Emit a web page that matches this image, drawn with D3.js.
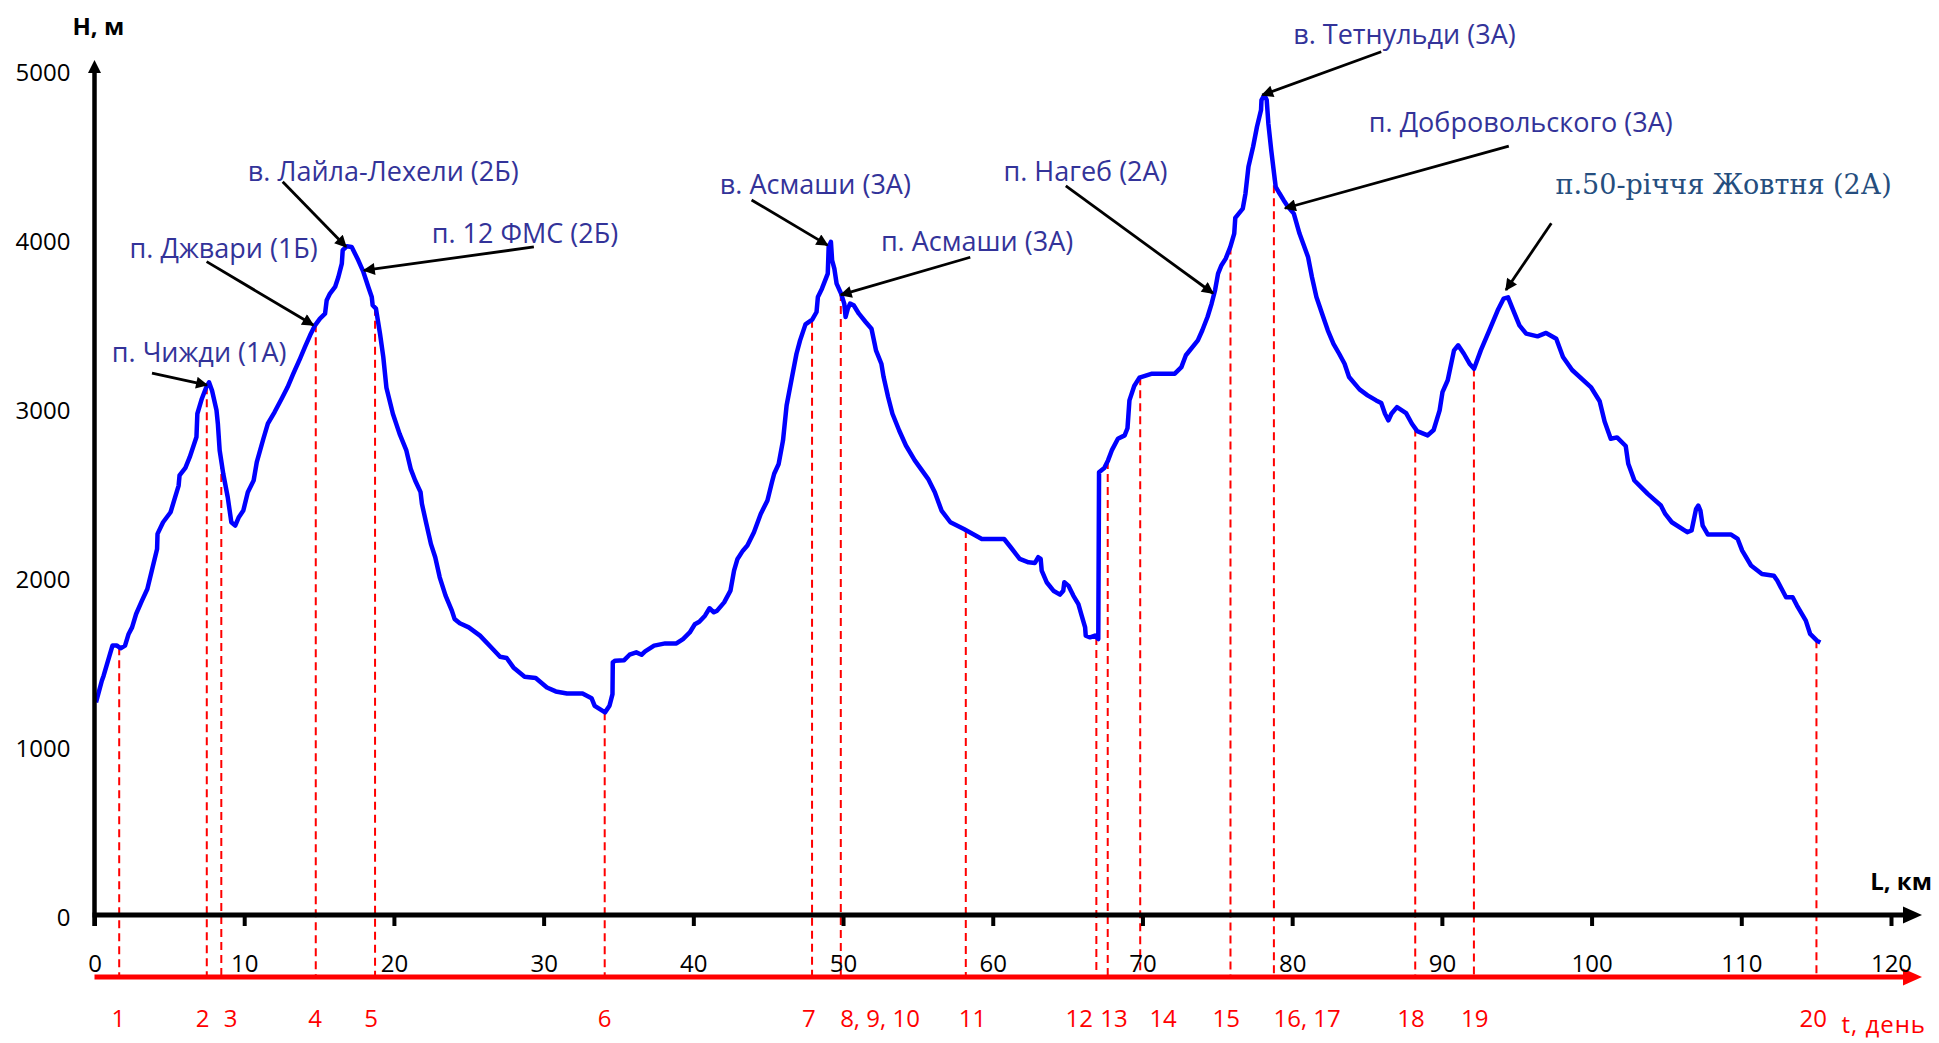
<!DOCTYPE html>
<html lang="uk">
<head>
    <meta charset="UTF-8">
    <title>Профіль маршруту</title>
    <style>
        body {
            margin: 0;
            background: #ffffff;
        }

        svg {
            display: block;
        }

        .tick text {
            font-family: 'Open Sans', sans-serif;
            font-size: 24px;
            fill: #000;
        }

        .note {
            font-family: 'Open Sans', sans-serif;
            font-size: 27px;
            fill: #333399;
        }

        .note.serif {
            font-family: 'DejaVu Serif', serif;
            font-size: 27px;
            fill: #254e7e;
        }

        .day {
            font-family: 'Open Sans', sans-serif;
            font-size: 24px;
            fill: #ff0000;
        }

        .axis-title {
            font-family: 'Open Sans', sans-serif;
            font-size: 24px;
            font-weight: bold;
            fill: #000;
        }
    </style>
</head>
<body>
    <svg id="chart" width="1939" height="1043"></svg>

    <script src="https://d3js.org/d3.v7.min.js"></script>
    <script>
        // elevation profile, [distance km, height m]
        const profile = [
            [0.1,1258],[0.49,1386],[0.61,1416],[1.2,1594],[1.5,1594],[1.74,1578],[2.04,1594],[2.28,1663],[2.51,1702],[2.78,1781],
            [3.17,1860],[3.53,1929],[3.83,2038],[4.18,2166],[4.21,2255],[4.58,2324],[5.08,2383],[5.32,2453],[5.62,2541],[5.68,2601],
            [6.07,2646],[6.36,2709],[6.66,2788],[6.81,2828],[6.87,2966],[7.17,3055],[7.47,3124],[7.65,3152],[7.85,3104],[8.15,2986],
            [8.24,2907],[8.36,2749],[8.6,2611],[8.9,2472],[9.14,2324],[9.4,2304],[9.64,2354],[9.94,2393],[10.24,2502],[10.63,2571],
            [10.84,2680],[11.28,2818],[11.58,2907],[12.03,2976],[12.5,3055],[12.9,3124],[13.28,3203],[13.73,3292],[14.06,3361],[14.4,3430],
            [14.73,3489],[15.06,3529],[15.4,3558],[15.51,3637],[15.73,3677],[16.07,3716],[16.29,3775],[16.52,3854],[16.58,3934],[16.85,3957],
            [17.18,3953],[17.62,3874],[17.96,3805],[18.29,3716],[18.52,3657],[18.58,3608],[18.8,3588],[19.07,3440],[19.29,3302],[19.5,3120],
            [19.93,2966],[20.38,2847],[20.83,2749],[21.12,2640],[21.42,2571],[21.78,2502],[21.87,2433],[22.17,2314],[22.47,2196],[22.76,2117],
            [23.06,1998],[23.45,1890],[23.87,1801],[24.05,1752],[24.4,1726],[25,1702],[25.75,1653],[26.49,1584],[27.09,1528],[27.53,1521],
            [27.98,1465],[28.73,1410],[29.47,1402],[30.22,1346],[30.81,1323],[31.56,1311],[32.6,1311],[33.2,1283],[33.41,1238],[34.1,1199],
            [34.4,1238],[34.6,1307],[34.62,1495],[34.78,1505],[35.38,1508],[35.74,1540],[36.19,1554],[36.54,1540],[36.78,1560],[37.38,1594],
            [38.12,1607],[38.87,1607],[39.31,1633],[39.76,1672],[40.1,1720],[40.4,1735],[40.78,1771],[41.08,1815],[41.37,1791],[41.59,1801],
            [42.06,1850],[42.48,1919],[42.72,2038],[42.95,2107],[43.31,2156],[43.61,2186],[44.05,2265],[44.5,2373],[44.95,2453],[45.25,2561],
            [45.4,2611],[45.7,2669],[45.99,2808],[46.23,3015],[46.59,3183],[46.89,3321],[47.13,3400],[47.49,3495],[47.94,3523],[48.23,3568],
            [48.32,3657],[48.59,3706],[48.98,3795],[49.04,3953],[49.19,3983],[49.27,3874],[49.42,3825],[49.57,3736],[49.87,3677],[50.08,3618],
            [50.17,3539],[50.32,3588],[50.47,3618],[50.71,3608],[51.06,3558],[51.51,3509],[51.9,3469],[52.11,3380],[52.2,3341],[52.56,3262],
            [52.71,3183],[53.01,3065],[53.3,2966],[53.75,2867],[54.2,2778],[54.79,2690],[55.68,2581],[56.13,2502],[56.58,2393],[57.17,2324],
            [58.07,2284],[58.67,2255],[59.27,2225],[60.76,2225],[61.2,2176],[61.8,2107],[62.39,2087],[62.82,2083],[63.04,2117],[63.2,2107],
            [63.27,2038],[63.6,1969],[64.05,1919],[64.49,1896],[64.71,1919],[64.78,1969],[65.05,1949],[65.38,1890],[65.72,1840],[65.94,1771],
            [66.17,1702],[66.21,1653],[66.5,1643],[66.83,1653],[67.05,1633],[67.1,2620],[67.45,2645],[67.7,2690],[67.95,2749],[68.36,2818],
            [68.81,2838],[69.0,2880],[69.13,3045],[69.45,3130],[69.8,3180],[70.64,3203],[72.16,3203],[72.6,3242],[72.9,3312],[73.7,3400],
            [74.0,3460],[74.35,3540],[74.62,3618],[74.85,3697],[75.05,3795],[75.28,3845],[75.56,3884],[75.87,3953],[76.13,4032],[76.2,4125],
            [76.7,4180],[76.88,4269],[77.08,4427],[77.39,4546],[77.65,4664],[77.92,4763],[77.95,4822],[78.14,4852],[78.3,4822],[78.41,4684],
            [78.6,4526],[78.79,4388],[78.9,4309],[79.16,4269],[79.43,4230],[79.73,4190],[80.11,4150],[80.49,4032],[81.06,3894],[81.32,3775],
            [81.62,3657],[82.0,3558],[82.38,3460],[82.76,3380],[83.14,3321],[83.5,3262],[83.8,3183],[84.5,3110],[85.04,3075],[85.61,3045],
            [85.95,3030],[86.2,2966],[86.43,2927],[86.63,2966],[87.0,3005],[87.61,2970],[88.0,2907],[88.35,2863],[89.05,2838],[89.45,2870],
            [89.85,2986],[90.04,3094],[90.39,3164],[90.81,3341],[91.09,3371],[91.47,3321],[91.85,3262],[92.15,3232],[92.6,3341],[93.17,3460],
            [93.73,3578],[94.12,3647],[94.42,3655],[94.68,3597],[95.18,3489],[95.63,3440],[96.39,3424],[96.96,3444],[97.64,3410],[98.09,3302],
            [98.7,3225],[99.95,3124],[100.54,3040],[100.87,2920],[101.28,2818],[101.7,2826],[102.28,2775],[102.45,2670],[102.86,2571],[103.75,2492],
            [104.63,2423],[104.92,2373],[105.36,2324],[106.39,2265],[106.68,2275],[106.98,2403],[107.13,2423],[107.27,2393],[107.42,2304],[107.77,2251],
            [109.32,2251],[109.76,2225],[110.06,2156],[110.65,2068],[111.38,2018],[112.17,2008],[112.4,1979],[112.99,1880],[113.43,1880],[113.72,1831],
            [114.31,1742],[114.6,1663],[115.05,1623],[115.28,1613]
        ];

        const kmTicks = [0, 10, 20, 30, 40, 50, 60, 70, 80, 90, 100, 110, 120];
        const heightTicks = [0, 1000, 2000, 3000, 4000, 5000];

        // end of each day on the route
        const dayLabels = ['1', '2', '3', '4', '5', '6', '7', '8, 9, 10', '11', '12', '13', '14', '15', '16, 17', '18', '19', '20'];
        const dayKm = [1.65, 7.5, 8.47, 14.78, 18.74, 34.08, 47.93, 49.85, 58.2, 66.92, 67.68, 69.85, 75.88, 78.78, 88.22, 92.14, 115.02];
        const dayLabelKm = [1.6, 7.23, 9.1, 14.74, 18.48, 34.07, 47.72, 52.47, 58.65, 65.78, 68.1, 71.38, 75.6, 81.0, 87.93, 92.2, 114.8];

        // passes and summits: label centre, arrow start, arrow tip (km, m)
        const noteTexts = [
            'п. Чижди (1А)', 'п. Джвари (1Б)', 'в. Лайла-Лехели (2Б)', 'п. 12 ФМС (2Б)', 'в. Асмаши (3А)',
            'п. Асмаши (3А)', 'п. Нагеб (2А)', 'в. Тетнульди (3А)', 'п. Добровольского (3А)', 'п.50-річчя Жовтня (2А)'
        ];
        const noteAt = [[6.99, 3337], [8.63, 3947], [19.29, 4408], [28.75, 4038], [48.15, 4331],
                        [58.95, 3994], [66.2, 4404], [87.5, 5217], [95.27, 4694], [108.82, 4320]];
        const noteFrom = [[3.84, 3207], [7.49, 3866], [12.57, 4339], [29.35, 3953], [43.89, 4231],
                          [58.5, 3892], [64.88, 4314], [85.95, 5108], [94.47, 4550], [97.31, 4093]];
        const noteTo = [[7.51, 3136], [14.61, 3491], [16.8, 3954], [18.0, 3814], [48.96, 3964],
                        [49.85, 3669], [74.71, 3679], [78.0, 4852], [79.52, 4182], [94.28, 3698]];

        const svg = d3.select('#chart');

        const x = d3.scaleLinear().domain([0, 120]).range([94.5, 1891]);
        const y = d3.scaleLinear().domain([0, 5000]).range([915, 70]);

        const y0 = y(0);
        const dayAxisY = y0 + 62;
        const xEnd = x(120) + 31;

        const defs = svg.append('defs');
        defs.append('marker')
            .attr('id', 'head')
            .attr('viewBox', '0 0 10 10')
            .attr('refX', 9)
            .attr('refY', 5)
            .attr('markerUnits', 'userSpaceOnUse')
            .attr('markerWidth', 16)
            .attr('markerHeight', 12)
            .attr('orient', 'auto')
            .append('path')
            .attr('d', 'M0,0 L10,5 L0,10 z')
            .attr('fill', '#000');

        // height at a distance
        const bisect = d3.bisector(d => d[0]).left;
        function heightAt(km) {
            const i = Math.max(1, Math.min(profile.length - 1, bisect(profile, km)));
            const a = profile[i - 1], b = profile[i];
            const t = (km - a[0]) / (b[0] - a[0]);
            return a[1] + (b[1] - a[1]) * t;
        }

        // day markers
        svg.append('g')
            .selectAll('line')
            .data(dayKm)
            .join('line')
            .attr('x1', d => x(d))
            .attr('x2', d => x(d))
            .attr('y1', d => y(heightAt(d)))
            .attr('y2', dayAxisY)
            .attr('stroke', '#ff0000')
            .attr('stroke-width', 2)
            .attr('stroke-dasharray', '8,5');

        svg.append('g')
            .selectAll('text')
            .data(dayLabels)
            .join('text')
            .attr('class', 'day')
            .attr('x', (d, i) => x(dayLabelKm[i]))
            .attr('y', dayAxisY + 40)
            .attr('text-anchor', 'middle')
            .attr('dominant-baseline', 'central')
            .text(d => d);

        // red day axis
        svg.append('line')
            .attr('x1', x(0)).attr('x2', xEnd - 16)
            .attr('y1', dayAxisY).attr('y2', dayAxisY)
            .attr('stroke', '#ff0000')
            .attr('stroke-width', 5);
        svg.append('path')
            .attr('d', `M${xEnd},${dayAxisY} L${xEnd - 19},${dayAxisY - 8.5} L${xEnd - 19},${dayAxisY + 8.5} Z`)
            .attr('fill', '#ff0000');

        svg.append('text')
            .attr('class', 'day')
            .attr('x', xEnd + 4)
            .attr('y', dayAxisY + 46)
            .attr('text-anchor', 'end')
            .attr('dominant-baseline', 'central')
            .style('letter-spacing', '1px')
            .text('t, день');

        // elevation line
        const line = d3.line()
            .x(d => x(d[0]))
            .y(d => y(d[1]));

        svg.append('path')
            .datum(profile)
            .attr('d', line)
            .attr('fill', 'none')
            .attr('stroke', '#0000ff')
            .attr('stroke-width', 4.5)
            .attr('stroke-linejoin', 'round');

        // x axis
        const xAxis = d3.axisBottom(x)
            .tickValues(kmTicks)
            .tickSize(11)
            .tickPadding(29)
            .tickFormat(d3.format('d'));

        const gx = svg.append('g')
            .attr('transform', `translate(0,${y0})`)
            .call(xAxis);
        gx.select('.domain').remove();
        gx.selectAll('.tick line').attr('stroke', '#000').attr('stroke-width', 4);

        svg.append('line')
            .attr('x1', x(0) - 2).attr('x2', xEnd - 16)
            .attr('y1', y0).attr('y2', y0)
            .attr('stroke', '#000')
            .attr('stroke-width', 5);
        svg.append('path')
            .attr('d', `M${xEnd},${y0} L${xEnd - 19},${y0 - 8.5} L${xEnd - 19},${y0 + 8.5} Z`)
            .attr('fill', '#000');

        svg.append('text')
            .attr('class', 'axis-title')
            .attr('x', xEnd + 10)
            .attr('y', y0 - 35)
            .attr('text-anchor', 'end')
            .attr('dominant-baseline', 'central')
            .text('L, км');

        // y axis
        const yAxis = d3.axisLeft(y)
            .tickValues(heightTicks)
            .tickSize(0)
            .tickPadding(24)
            .tickFormat(d3.format('d'));

        const gy = svg.append('g')
            .attr('transform', `translate(${x(0)},3)`)
            .call(yAxis);
        gy.select('.domain').remove();

        const yTop = y(5000) - 10;
        svg.append('line')
            .attr('x1', x(0)).attr('x2', x(0))
            .attr('y1', y0 + 11).attr('y2', yTop + 10)
            .attr('stroke', '#000')
            .attr('stroke-width', 4.5);
        svg.append('path')
            .attr('d', `M${x(0)},${yTop} L${x(0) - 6.5},${yTop + 13} L${x(0) + 6.5},${yTop + 13} Z`)
            .attr('fill', '#000');

        svg.append('text')
            .attr('class', 'axis-title')
            .attr('x', x(0) - 22)
            .attr('y', 25)
            .attr('dominant-baseline', 'central')
            .text('Н, м');

        // annotations
        const notes = svg.append('g');
        notes.selectAll('line')
            .data(noteTexts)
            .join('line')
            .attr('x1', (d, i) => x(noteFrom[i][0]))
            .attr('y1', (d, i) => y(noteFrom[i][1]))
            .attr('x2', (d, i) => x(noteTo[i][0]))
            .attr('y2', (d, i) => y(noteTo[i][1]))
            .attr('stroke', '#000')
            .attr('stroke-width', 2.8)
            .attr('marker-end', 'url(#head)');

        notes.selectAll('text')
            .data(noteTexts)
            .join('text')
            .attr('class', (d, i) => i === noteTexts.length - 1 ? 'note serif' : 'note')
            .attr('x', (d, i) => x(noteAt[i][0]))
            .attr('y', (d, i) => y(noteAt[i][1]))
            .attr('text-anchor', 'middle')
            .attr('dominant-baseline', 'central')
            .text(d => d);
    </script>
</body>
</html>
